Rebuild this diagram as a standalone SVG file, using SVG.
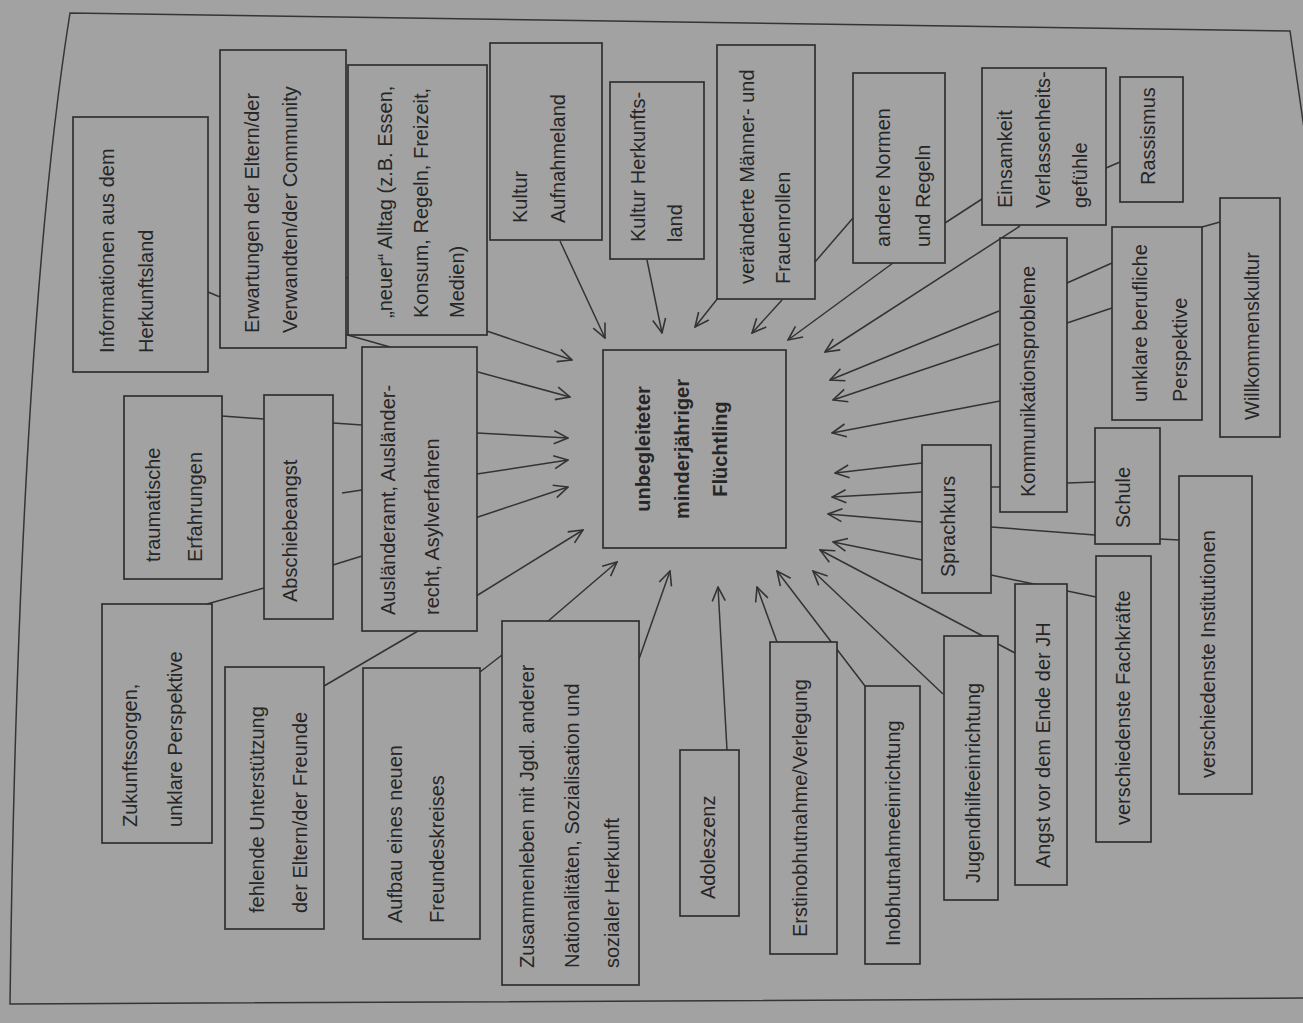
<svg xmlns="http://www.w3.org/2000/svg" width="1303" height="1023" viewBox="0 0 1303 1023">
<defs>
<marker id="arr" viewBox="0 0 16 16" refX="15" refY="8" markerWidth="16" markerHeight="16" markerUnits="userSpaceOnUse" orient="auto">
<path d="M1,1.5 L15,8 L1,14.5" fill="none" stroke="#333333" stroke-width="1.6"/>
</marker>
<style>
.bg{fill:#a2a2a2}
.frame{fill:none;stroke:#353535;stroke-width:1.5}
.box{fill:#a2a2a2;stroke:#303030;stroke-width:1.7}
.t{font-family:"Liberation Sans",Arial,sans-serif;font-size:20px;fill:#262626}
.b{font-weight:bold;text-anchor:middle}
.c line{stroke:#333333;stroke-width:1.5}
.c .a{marker-end:url(#arr)}
</style>
</defs>
<rect class="bg" x="0" y="0" width="1303" height="1023"/>
<path class="frame" d="M1310,170 L1290,31 L70,13 C40,200 16,520 10,1004 L1303,998"/>

<g id="connectors" class="c">
<line class="a" x1="560" y1="241" x2="605" y2="338"/>
<line class="a" x1="647" y1="260" x2="662" y2="333"/>
<line class="a" x1="718" y1="298" x2="695" y2="327"/>
<line class="a" x1="782" y1="300" x2="752" y2="333"/>
<line class="a" x1="893" y1="263" x2="788" y2="340"/>
<line class="a" x1="1020" y1="226" x2="825" y2="352"/>
<line class="a" x1="999" y1="311" x2="830" y2="380"/>
<line class="a" x1="999" y1="344" x2="833" y2="400"/>
<line class="a" x1="1000" y1="401" x2="832" y2="433"/>
<line class="a" x1="922" y1="463" x2="835" y2="473"/>
<line class="a" x1="922" y1="492" x2="832" y2="497"/>
<line class="a" x1="922" y1="522" x2="828" y2="514"/>
<line class="a" x1="922" y1="560" x2="833" y2="542"/>
<line class="a" x1="1015" y1="653" x2="820" y2="550"/>
<line class="a" x1="943" y1="694" x2="813" y2="571"/>
<line class="a" x1="865" y1="686" x2="777" y2="571"/>
<line class="a" x1="777" y1="642" x2="757" y2="587"/>
<line class="a" x1="727" y1="750" x2="718" y2="587"/>
<line class="a" x1="639" y1="659" x2="670" y2="571"/>
<line class="a" x1="547" y1="622" x2="617" y2="562"/>
<line class="a" x1="473" y1="598" x2="583" y2="530"/>
<line class="a" x1="475" y1="518" x2="568" y2="487"/>
<line class="a" x1="477" y1="474" x2="568" y2="460"/>
<line class="a" x1="477" y1="433" x2="568" y2="438"/>
<line class="a" x1="478" y1="372" x2="570" y2="397"/>
<line class="a" x1="478" y1="328" x2="572" y2="360"/>
<line x1="208" y1="292" x2="220" y2="297"/>
<line x1="334" y1="273" x2="348" y2="278"/>
<line x1="330" y1="330" x2="390" y2="347"/>
<line x1="222" y1="416" x2="264" y2="419"/>
<line x1="333" y1="423" x2="362" y2="425"/>
<line x1="342" y1="493" x2="362" y2="490"/>
<line x1="333" y1="565" x2="362" y2="556"/>
<line x1="207" y1="604" x2="264" y2="588"/>
<line x1="324" y1="686" x2="418" y2="631"/>
<line x1="480" y1="672" x2="502" y2="655"/>
<line x1="815" y1="262" x2="853" y2="218"/>
<line x1="945" y1="223" x2="985" y2="197"/>
<line x1="1106" y1="168" x2="1120" y2="162"/>
<line x1="1067" y1="283" x2="1112" y2="263"/>
<line x1="1067" y1="323" x2="1112" y2="308"/>
<line x1="1202" y1="227" x2="1220" y2="222"/>
<line x1="991" y1="487" x2="1000" y2="487"/>
<line x1="991" y1="527" x2="1095" y2="535"/>
<line x1="991" y1="575" x2="1096" y2="597"/>
<line x1="1067" y1="483" x2="1095" y2="482"/>
<line x1="1160" y1="539" x2="1179" y2="540"/>
</g>

<g id="n-center"><rect class="box" x="603" y="350" width="183" height="198"/>
<text class="t b" transform="rotate(-90)"><tspan x="-449" y="650">unbegleiteter</tspan><tspan x="-449" y="689">minderjähriger</tspan><tspan x="-449" y="727">Flüchtling</tspan></text></g>

<g id="n-info"><rect class="box" x="73" y="117" width="135" height="255"/>
<text class="t" transform="rotate(-90)"><tspan x="-353" y="114">Informationen aus dem</tspan><tspan x="-353" y="153">Herkunftsland</tspan></text></g>

<g id="n-erwartungen"><rect class="box" x="220" y="50" width="126" height="298"/>
<text class="t" transform="rotate(-90)"><tspan x="-333" y="259">Erwartungen der Eltern/der</tspan><tspan x="-333" y="297">Verwandten/der Community</tspan></text></g>

<g id="n-alltag"><rect class="box" x="348" y="65" width="139" height="270"/>
<text class="t" transform="rotate(-90)"><tspan x="-318" y="392">„neuer“ Alltag (z.B. Essen,</tspan><tspan x="-318" y="428">Konsum, Regeln, Freizeit,</tspan><tspan x="-318" y="464">Medien)</tspan></text></g>

<g id="n-kultur-aufnahme"><rect class="box" x="490" y="43" width="112" height="197"/>
<text class="t" transform="rotate(-90)"><tspan x="-223" y="527">Kultur</tspan><tspan x="-223" y="565">Aufnahmeland</tspan></text></g>

<g id="n-kultur-herkunft"><rect class="box" x="610" y="82" width="94" height="177"/>
<text class="t" transform="rotate(-90)"><tspan x="-242" y="645">Kultur Herkunfts-</tspan><tspan x="-242" y="682">land</tspan></text></g>

<g id="n-rollen"><rect class="box" x="717" y="45" width="98" height="254"/>
<text class="t" transform="rotate(-90)"><tspan x="-284" y="754">veränderte Männer- und</tspan><tspan x="-284" y="790">Frauenrollen</tspan></text></g>

<g id="n-normen"><rect class="box" x="853" y="73" width="92" height="190"/>
<text class="t" transform="rotate(-90)"><tspan x="-247" y="890">andere Normen</tspan><tspan x="-247" y="930">und Regeln</tspan></text></g>

<g id="n-einsamkeit"><rect class="box" x="982" y="68" width="124" height="157"/>
<text class="t" transform="rotate(-90)"><tspan x="-208" y="1012">Einsamkeit</tspan><tspan x="-208" y="1050">Verlassenheits-</tspan><tspan x="-208" y="1087">gefühle</tspan></text></g>

<g id="n-rassismus"><rect class="box" x="1120" y="77" width="63" height="125"/>
<text class="t" transform="rotate(-90)"><tspan x="-185" y="1155">Rassismus</tspan></text></g>

<g id="n-kommunikation"><rect class="box" x="1000" y="238" width="67" height="274"/>
<text class="t" transform="rotate(-90)"><tspan x="-497" y="1035">Kommunikationsprobleme</tspan></text></g>

<g id="n-beruf"><rect class="box" x="1112" y="227" width="90" height="193"/>
<text class="t" transform="rotate(-90)"><tspan x="-402" y="1147">unklare berufliche</tspan><tspan x="-402" y="1187">Perspektive</tspan></text></g>

<g id="n-willkommen"><rect class="box" x="1220" y="198" width="60" height="239"/>
<text class="t" transform="rotate(-90)"><tspan x="-420" y="1259">Willkommenskultur</tspan></text></g>

<g id="n-sprachkurs"><rect class="box" x="922" y="445" width="69" height="148"/>
<text class="t" transform="rotate(-90)"><tspan x="-577" y="955">Sprachkurs</tspan></text></g>

<g id="n-schule"><rect class="box" x="1095" y="428" width="65" height="116"/>
<text class="t" transform="rotate(-90)"><tspan x="-528" y="1130">Schule</tspan></text></g>

<g id="n-institutionen"><rect class="box" x="1179" y="476" width="73" height="318"/>
<text class="t" transform="rotate(-90)"><tspan x="-778" y="1215">verschiedenste Institutionen</tspan></text></g>

<g id="n-fachkraefte"><rect class="box" x="1096" y="556" width="55" height="286"/>
<text class="t" transform="rotate(-90)"><tspan x="-825" y="1130">verschiedenste Fachkräfte</tspan></text></g>

<g id="n-angst"><rect class="box" x="1015" y="584" width="52" height="301"/>
<text class="t" transform="rotate(-90)"><tspan x="-868" y="1050">Angst vor dem Ende der JH</tspan></text></g>

<g id="n-jugendhilfe"><rect class="box" x="944" y="636" width="54" height="264"/>
<text class="t" transform="rotate(-90)"><tspan x="-883" y="980">Jugendhilfeeinrichtung</tspan></text></g>

<g id="n-inobhut"><rect class="box" x="865" y="686" width="55" height="278"/>
<text class="t" transform="rotate(-90)"><tspan x="-946" y="900">Inobhutnahmeeinrichtung</tspan></text></g>

<g id="n-erstinobhut"><rect class="box" x="770" y="642" width="67" height="312"/>
<text class="t" transform="rotate(-90)"><tspan x="-937" y="807">Erstinobhutnahme/Verlegung</tspan></text></g>

<g id="n-adoleszenz"><rect class="box" x="680" y="750" width="59" height="166"/>
<text class="t" transform="rotate(-90)"><tspan x="-899" y="715">Adoleszenz</tspan></text></g>

<g id="n-zusammenleben"><rect class="box" x="502" y="621" width="137" height="364"/>
<text class="t" transform="rotate(-90)"><tspan x="-968" y="534">Zusammenleben mit Jgdl. anderer</tspan><tspan x="-968" y="579">Nationalitäten, Sozialisation und</tspan><tspan x="-968" y="619">sozialer Herkunft</tspan></text></g>

<g id="n-freundeskreis"><rect class="box" x="363" y="668" width="117" height="271"/>
<text class="t" transform="rotate(-90)"><tspan x="-923" y="402">Aufbau eines neuen</tspan><tspan x="-923" y="444">Freundeskreises</tspan></text></g>

<g id="n-unterstuetzung"><rect class="box" x="225" y="667" width="99" height="262"/>
<text class="t" transform="rotate(-90)"><tspan x="-913" y="264">fehlende Unterstützung</tspan><tspan x="-913" y="307">der Eltern/der Freunde</tspan></text></g>

<g id="n-zukunft"><rect class="box" x="102" y="604" width="110" height="239"/>
<text class="t" transform="rotate(-90)"><tspan x="-827" y="137">Zukunftssorgen,</tspan><tspan x="-827" y="182">unklare Perspektive</tspan></text></g>

<g id="n-trauma"><rect class="box" x="124" y="396" width="98" height="183"/>
<text class="t" transform="rotate(-90)"><tspan x="-562" y="160">traumatische</tspan><tspan x="-562" y="202">Erfahrungen</tspan></text></g>

<g id="n-abschiebeangst"><rect class="box" x="264" y="395" width="69" height="224"/>
<text class="t" transform="rotate(-90)"><tspan x="-602" y="297">Abschiebeangst</tspan></text></g>

<g id="n-auslaenderamt"><rect class="box" x="362" y="347" width="115" height="284"/>
<text class="t" transform="rotate(-90)"><tspan x="-615" y="395">Ausländeramt, Ausländer-</tspan><tspan x="-615" y="439">recht, Asylverfahren</tspan></text></g>
</svg>
